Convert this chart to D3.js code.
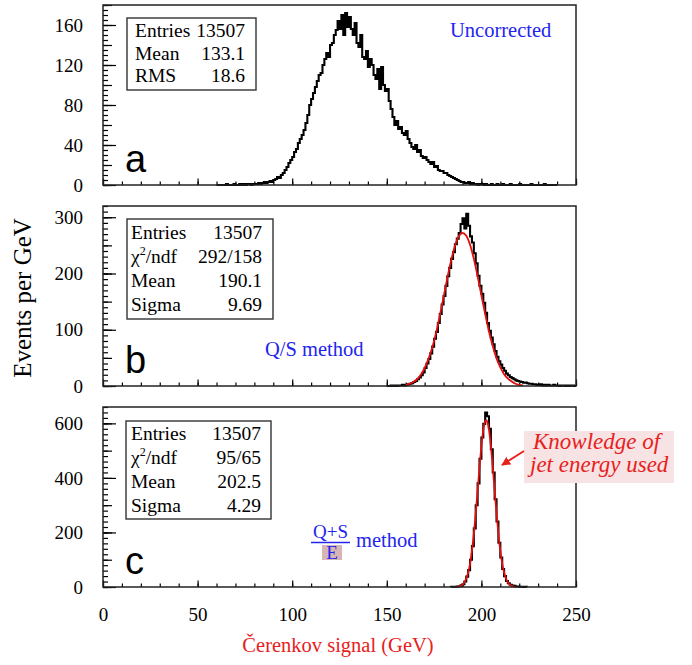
<!DOCTYPE html>
<html>
<head>
<meta charset="utf-8">
<script src="https://cdn.jsdelivr.net/npm/d3@7"></script>
<style>
  body { margin: 0; background: #fff; }
  svg { display: block; }
  text { font-family: "Liberation Serif", "Times New Roman", serif; }
</style>
</head>
<body>
<svg id="chart" width="692" height="665"></svg>
<script>
// ---- data (1 GeV bins, lower edge given by *Start) ----
var xTickLabels = [0, 50, 100, 150, 200, 250];

var histAStart = 60;
var histA = [
  0,0,0,0,0,1,0,0,0,1,
  0,0,1,0,1,0,1,1,0,1,
  1,1,2,1,2,3,2,3,4,3,
  5,6,8,7,10,12,15,18,22,25,
  28,33,36,42,46,50,55,62,70,80,
  86,92,98,104,110,112,120,126,132,128,
  140,142,150,155,164,156,170,150,172,158,
  168,156,150,162,142,138,150,128,126,134,
  118,126,120,110,106,116,96,118,100,94,
  96,84,76,68,60,64,56,58,52,50,
  54,46,42,38,36,40,33,35,29,27,
  28,25,23,21,23,18,19,15,14,14,
  12,12,10,9,8,7,6,5,4,3,
  3,2,2,3,1,2,1,1,0,1,
  1,0,1,0,0,1,0,0,1,0,
  0,1,0,0,0,1,0,0,0,0,
  1,0,0,0,0,0,1,0,0,0,
  0,0,0,1,0,0,0,0,0,0
];

var histBStart = 150;
var histB = [
  0,0,1,0,1,0,1,1,2,1,
  2,3,4,5,7,9,12,15,19,24,
  32,40,48,58,70,84,96,112,128,145,
  160,178,195,210,226,238,252,262,272,288,
  298,280,306,285,266,255,236,218,196,178,
  164,148,130,112,98,86,74,62,52,44,
  38,32,27,22,19,16,14,12,10,9,
  8,7,6,6,5,4,4,3,3,2,
  2,3,1,2,1,2,1,1,2,1,
  1,0,1,1,0,1,0,1,1,0
];

var histCStart = 184;
var histC = [
  1,1,1,2,3,6,10,20,38,62,
  100,150,215,300,380,470,548,598,640,626,
  580,505,420,322,240,162,108,66,40,22,
  14,8,5,4,2,2,1,1,0,1
];

// red fit curves
var fitBx = [160,162,164,166,168,170,172,174,176,178,180,182,184,186,188,190,192,194,196,198,200,202,204,206,208,210,212,214,216,218,220,222];
var fitBy = [2,4,7,12,20,32,48,68,94,125,158,192,223,249,266,272,267,251,226,195,161,128,97,71,49,33,21,13,8,4,2,1];

var fitCx = [187,188,189,190,191,192,193,194,195,196,197,198,199,200,201,202,202.5,203,204,205,206,207,208,209,210,211,212,213,214,215,216,217,218];
var fitCy = [1,2,4,9,17,31,53,86,133,194,269,353,439,516,576,608,612,608,576,516,439,353,269,194,133,86,53,31,17,9,4,2,1];

var statsA = [["Entries", "13507"], ["Mean", "133.1"], ["RMS", "18.6"]];
var statsB = [["Entries", "13507"], ["chi", "292/158"], ["Mean", "190.1"], ["Sigma", "9.69"]];
var statsC = [["Entries", "13507"], ["chi", "95/65"], ["Mean", "202.5"], ["Sigma", "4.29"]];

// ---- layout ----
var svg = d3.select("#chart");
var left = 103, right = 576;
var x = d3.scaleLinear().domain([0, 250]).range([left, right]);

var panels = [
  { top: 5,   bottom: 185, ymax: 180, major: 40,  mid: 20,  minor: 5,  letter: "a",
    hist: histA, start: histAStart, stats: statsA,
    box: { x: 127, y: 18, w: 129, h: 72, lx: 135, rx: 245, y0: 37, dy: 22.5 } },
  { top: 206, bottom: 386, ymax: 320, major: 100, mid: 50,  minor: 10, letter: "b",
    hist: histB, start: histBStart, stats: statsB, fitx: fitBx, fity: fitBy,
    box: { x: 127, y: 219, w: 146, h: 100, lx: 131, rx: 262, y0: 239, dy: 24 } },
  { top: 407, bottom: 587, ymax: 660, major: 200, mid: 100, minor: 20, letter: "c",
    hist: histC, start: histCStart, stats: statsC, fitx: fitCx, fity: fitCy,
    box: { x: 126, y: 421, w: 145, h: 98, lx: 131, rx: 261, y0: 440, dy: 24 } }
];

panels.forEach(function (p, i) {
  var y = d3.scaleLinear().domain([0, p.ymax]).range([p.bottom, p.top]);
  var g = svg.append("g");

  // y ticks: minor, mid, labelled
  [[p.minor, -5, false], [p.mid, -9, false], [p.major, -13, true]].forEach(function (t) {
    var ax = d3.axisLeft(y)
      .tickValues(d3.range(0, p.ymax + 0.001, t[0]))
      .tickSize(t[1])
      .tickPadding(20);
    var a = g.append("g").attr("transform", "translate(" + left + ",0)").call(ax);
    a.select(".domain").remove();
    a.selectAll("line").attr("stroke", "#000").attr("stroke-width", 1.2);
    if (t[2]) {
      a.selectAll("text").attr("font-size", 19).attr("fill", "#000")
        .style("font-family", "'Liberation Serif', serif");
    } else {
      a.selectAll("text").remove();
    }
  });

  // x ticks
  [[10, -3.5, false], [50, -6.5, i == 2]].forEach(function (t) {
    var ax = d3.axisBottom(x)
      .tickValues(d3.range(0, 250.001, t[0]))
      .tickSize(t[1])
      .tickPadding(21)
      .tickFormat(d3.format("d"));
    var a = g.append("g").attr("transform", "translate(0," + p.bottom + ")").call(ax);
    a.select(".domain").remove();
    a.selectAll("line").attr("stroke", "#000").attr("stroke-width", 1.2);
    if (t[2]) {
      a.selectAll("text").attr("font-size", 19).attr("fill", "#000")
        .style("font-family", "'Liberation Serif', serif");
    } else {
      a.selectAll("text").remove();
    }
  });

  // histogram as a step line
  var pts = p.hist.map(function (v, k) { return [p.start + k, v]; });
  pts.push([p.start + p.hist.length, 0]);
  pts.unshift([p.start, 0]);
  var line = d3.line()
    .x(function (d) { return x(d[0]); })
    .y(function (d) { return y(d[1]); })
    .curve(d3.curveStepAfter);
  g.append("path")
    .datum(pts)
    .attr("d", line)
    .attr("fill", "none")
    .attr("stroke", "#000")
    .attr("stroke-width", 2.1);

  // gaussian fit
  if (p.fitx) {
    var fit = d3.line()
      .x(function (d, k) { return x(d); })
      .y(function (d, k) { return y(p.fity[k]); })
      .curve(d3.curveMonotoneX);
    g.append("path")
      .datum(p.fitx)
      .attr("d", fit)
      .attr("fill", "none")
      .attr("stroke", "#e41010")
      .attr("stroke-width", 1.8);
  }

  // frame
  g.append("rect")
    .attr("x", left).attr("y", p.top)
    .attr("width", right - left).attr("height", p.bottom - p.top)
    .attr("fill", "none").attr("stroke", "#222").attr("stroke-width", 1.5);

  // stats box
  var b = p.box;
  g.append("rect")
    .attr("x", b.x).attr("y", b.y).attr("width", b.w).attr("height", b.h)
    .attr("fill", "#fff").attr("stroke", "#333").attr("stroke-width", 1.4);
  p.stats.forEach(function (s, k) {
    var ty = b.y0 + k * b.dy;
    var lab = g.append("text").attr("x", b.lx).attr("y", ty)
      .attr("font-size", 19.5).attr("fill", "#000");
    if (s[0] == "chi") {
      lab.append("tspan").text("\u03C7");
      lab.append("tspan").attr("font-size", 12).attr("dy", -8).text("2");
      lab.append("tspan").attr("dy", 8).text("/ndf");
    } else {
      lab.text(s[0]);
    }
    g.append("text").attr("x", b.rx).attr("y", ty)
      .attr("text-anchor", "end").attr("font-size", 19.5).attr("fill", "#000")
      .text(s[1]);
  });

  // panel letter
  g.append("text")
    .attr("x", 125).attr("y", p.bottom - 13.5)
    .attr("font-size", 38)
    .style("font-family", "'Liberation Sans', Arial, sans-serif")
    .text(p.letter);
});

// ---- annotations ----
var blue = "#2424ee";
svg.append("text").attr("x", 450).attr("y", 37)
  .attr("font-size", 20.5).attr("fill", blue).text("Uncorrected");

svg.append("text").attr("x", 265).attr("y", 356)
  .attr("font-size", 20.5).attr("fill", blue).text("Q/S method");

// (Q+S)/E method
svg.append("rect").attr("x", 322).attr("y", 545).attr("width", 20).attr("height", 15)
  .attr("fill", "#d8b4b4");
svg.append("text").attr("x", 330.5).attr("y", 538)
  .attr("text-anchor", "middle").attr("font-size", 19).attr("fill", blue).text("Q+S");
svg.append("line").attr("x1", 311).attr("x2", 350).attr("y1", 542.5).attr("y2", 542.5)
  .attr("stroke", blue).attr("stroke-width", 1.3);
svg.append("text").attr("x", 332).attr("y", 558.5).attr("text-anchor", "middle")
  .attr("font-size", 19).attr("fill", blue).text("E");
svg.append("text").attr("x", 356).attr("y", 547)
  .attr("font-size", 20.5).attr("fill", blue).text("method");

// knowledge box
var red = "#e8201c";
svg.append("rect").attr("x", 524).attr("y", 431).attr("width", 150).attr("height", 52)
  .attr("fill", "#f7e3e3");
svg.append("text").attr("x", 533).attr("y", 449)
  .attr("font-size", 23).attr("font-style", "italic").attr("fill", red).text("Knowledge of");
svg.append("text").attr("x", 530).attr("y", 472)
  .attr("font-size", 23).attr("font-style", "italic").attr("fill", red).text("jet energy used");

svg.append("defs").append("marker")
  .attr("id", "arrow").attr("viewBox", "0 0 10 10")
  .attr("refX", 9).attr("refY", 5)
  .attr("markerWidth", 4.5).attr("markerHeight", 4.5)
  .attr("orient", "auto")
  .append("path").attr("d", "M0,0L10,5L0,10z").attr("fill", red);
svg.append("line").attr("x1", 524).attr("y1", 451).attr("x2", 502).attr("y2", 465)
  .attr("stroke", red).attr("stroke-width", 2).attr("marker-end", "url(#arrow)");

// ---- axis titles ----
svg.append("text")
  .attr("transform", "translate(31,298) rotate(-90)")
  .attr("text-anchor", "middle").attr("font-size", 25).attr("fill", "#000")
  .text("Events per GeV");

svg.append("text").attr("x", 338).attr("y", 652)
  .attr("text-anchor", "middle").attr("font-size", 20.5).attr("fill", red)
  .text("\u010Cerenkov signal (GeV)");
</script>
</body>
</html>
